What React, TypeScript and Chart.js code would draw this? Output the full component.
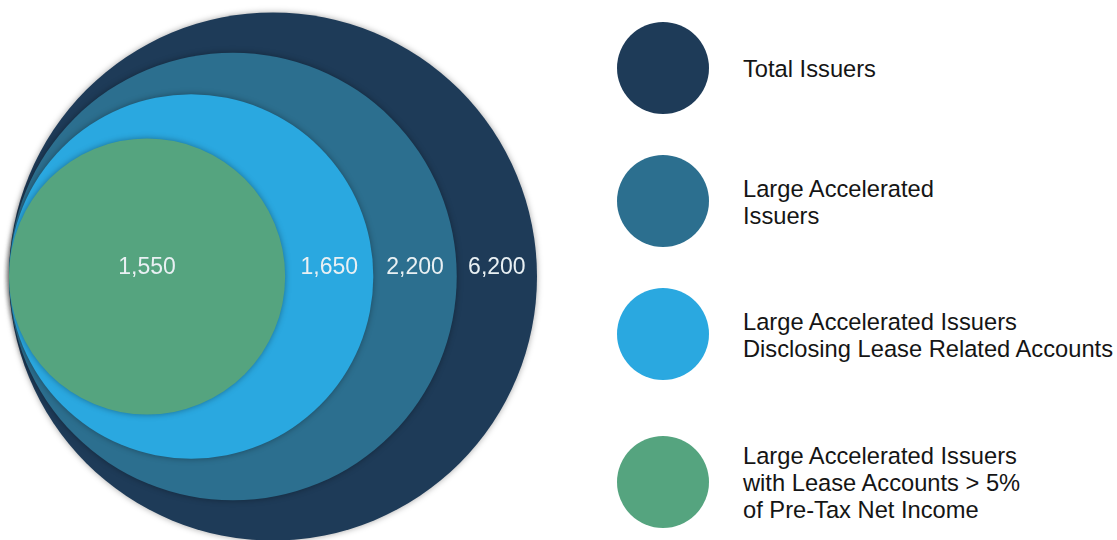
import React, { useEffect, useRef } from 'react';
import { Chart, registerables } from 'chart.js';

Chart.register(...registerables);

// ---- data ----
const categories = [
  'Total Issuers',
  'Large Accelerated Issuers',
  'Large Accelerated Issuers Disclosing Lease Related Accounts',
  'Large Accelerated Issuers with Lease Accounts > 5% of Pre-Tax Net Income',
];
const issuerCounts = [6200, 2200, 1650, 1550];
const legendLines = [
  ['Total Issuers'],
  ['Large Accelerated', 'Issuers'],
  ['Large Accelerated Issuers', 'Disclosing Lease Related Accounts'],
  ['Large Accelerated Issuers', 'with Lease Accounts > 5%', 'of Pre-Tax Net Income'],
];
// relative circle radii as drawn in the picture (outer circle = 1)
const circleSizes = [1.0, 0.848, 0.69, 0.523];

// ---- styles ----
const colors = ['#1e3b58', '#2c6f8f', '#2aa8e0', '#55a47f'];
const labelColor = '#e9f0f3';
const labelLift = 0.034;
const FONT = '"Liberation Sans", Arial, Helvetica, sans-serif';

const shadowPlugin = {
  id: 'ringShadow',
  beforeDatasetsDraw(chart: any) {
    const ctx = chart.ctx;
    ctx.save();
    ctx.shadowColor = 'rgba(0,0,0,0.35)';
    ctx.shadowBlur = 6;
  },
  afterDatasetsDraw(chart: any) {
    chart.ctx.restore();
  },
};

const valueLabelPlugin = {
  id: 'ringValueLabels',
  afterDatasetsDraw(chart: any) {
    const { ctx, scales } = chart;
    const xs = scales.x;
    const ys = scales.y;
    ctx.save();
    ctx.fillStyle = labelColor;
    ctx.font = `23px ${FONT}`;
    ctx.textAlign = 'center';
    ctx.textBaseline = 'middle';
    const y = ys.getPixelForValue(labelLift);
    issuerCounts.forEach((v, i) => {
      const xv = i < circleSizes.length - 1 ? circleSizes[i] + circleSizes[i + 1] : circleSizes[i];
      ctx.fillText(v.toLocaleString('en-US'), xs.getPixelForValue(xv), y);
    });
    ctx.restore();
  },
};

function NestedCircles() {
  const ref = useRef<HTMLCanvasElement | null>(null);
  useEffect(() => {
    if (!ref.current) return;
    const chart = new Chart(ref.current, {
      type: 'scatter',
      data: {
        labels: categories,
        datasets: [
          {
            label: 'Issuers',
            data: circleSizes.map((s) => ({ x: s, y: 0 })),
            showLine: false,
            pointBackgroundColor: colors,
            pointBorderWidth: 0,
            pointHoverBorderWidth: 0,
            clip: false as any,
            pointRadius: (c: any) => {
              const xs = c.chart.scales && c.chart.scales.x;
              if (c.dataIndex === undefined || !xs) return 0;
              const r = xs.getPixelForValue(circleSizes[c.dataIndex]) - xs.getPixelForValue(0);
              return isFinite(r) && r > 0 ? r : 0;
            },
          } as any,
        ],
      },
      options: {
        animation: false,
        responsive: true,
        maintainAspectRatio: false,
        events: [],
        layout: { autoPadding: false, padding: { left: 9, right: 63, top: 13, bottom: 0 } },
        scales: {
          x: { type: 'linear', min: 0, max: 2, display: false },
          y: { type: 'linear', min: -1, max: 1, display: false },
        },
        plugins: {
          legend: { display: false },
          tooltip: { enabled: false },
        },
      },
      plugins: [shadowPlugin, valueLabelPlugin],
    });
    return () => chart.destroy();
  }, []);
  return (
    <div style={{ position: 'absolute', left: 0, top: 0, width: 600, height: 540 }}>
      <canvas ref={ref} />
    </div>
  );
}

const legendCenters = [68, 201, 334, 482];

function Legend() {
  return (
    <>
      {legendLines.map((lines, i) => (
        <div
          key={i}
          style={{
            position: 'absolute',
            left: 617,
            top: legendCenters[i] - 46,
            height: 92,
            display: 'flex',
            alignItems: 'center',
          }}
        >
          <div
            style={{
              width: 92,
              height: 92,
              borderRadius: '50%',
              background: colors[i],
              flex: '0 0 auto',
            }}
          />
          <div
            style={{
              marginLeft: 34,
              marginTop: 3,
              fontFamily: FONT,
              fontSize: 23.7,
              lineHeight: '26.7px',
              color: '#151515',
              whiteSpace: 'nowrap',
            }}
          >
            {lines.map((l, j) => (
              <div key={j}>{l}</div>
            ))}
          </div>
        </div>
      ))}
    </>
  );
}

export default function App() {
  return (
    <div
      style={{
        position: 'fixed',
        left: 0,
        top: 0,
        width: 1117,
        height: 540,
        background: '#ffffff',
        overflow: 'hidden',
      }}
    >
      <NestedCircles />
      <Legend />
    </div>
  );
}
